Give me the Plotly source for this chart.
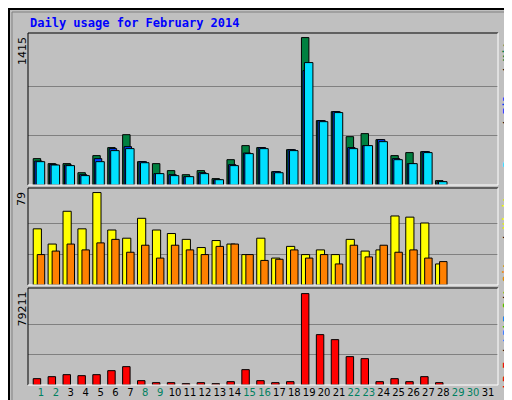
import plotly.graph_objects as go

days = list(range(1, 29))
all_days = list(range(1, 32))
weekend = [1, 2, 8, 9, 15, 16, 22, 23, 29, 30]
S1 = 1415 / 442
hits = [round(v * S1) for v in [79,64,64,37,88,112,151,70,64,43,31,43,19,76,118,112,40,106,442,193,220,145,154,136,88,97,100,13]]
files = [round(v * S1) for v in [72,62,60,31,79,109,115,70,34,31,25,37,16,61,96,112,40,106,343,193,220,112,118,136,79,64,100,10]]
pages = [round(v * S1) for v in [70,60,58,28,70,103,109,67,34,28,25,34,16,58,94,109,37,103,367,190,217,109,118,130,76,64,97,10]]
S2 = 79 / 277
visits = [round(v * S2) for v in [169,124,220,169,277,166,142,199,166,154,136,112,133,121,91,139,82,115,91,106,91,136,103,106,208,205,187,64]]
sites = [round(v * S2) for v in [91,100,124,106,127,136,97,118,79,118,106,91,115,124,91,73,76,106,82,91,64,118,85,118,97,106,79,70]]
S3 = 79211 / 274
kbf = [round(v * S3) for v in [19,25,31,28,31,43,55,13,7,7,4,7,4,10,46,13,7,10,274,151,136,85,79,10,19,10,25,7]]

fig = go.Figure()
ln = dict(color="black", width=1)
fig.add_bar(x=days, y=hits, offset=-0.52, width=0.5, marker=dict(color="#008040", line=ln), xaxis="x", yaxis="y")
fig.add_bar(x=days, y=files, offset=-0.42, width=0.5, marker=dict(color="#0040ff", line=ln), xaxis="x", yaxis="y")
fig.add_bar(x=days, y=pages, offset=-0.32, width=0.57, marker=dict(color="#00e0ff", line=ln), xaxis="x", yaxis="y")
fig.add_bar(x=days, y=visits, offset=-0.52, width=0.55, marker=dict(color="#ffff00", line=ln), xaxis="x2", yaxis="y2")
fig.add_bar(x=days, y=sites, offset=-0.25, width=0.5, marker=dict(color="#ff8000", line=ln), xaxis="x2", yaxis="y2")
fig.add_bar(x=days, y=kbf, offset=-0.52, width=0.5, marker=dict(color="#ff0000", line=ln), xaxis="x3", yaxis="y3")

xd = [20/512, 490/512]
xr = [0.13, 31.67]
ticktext = [f"<span style='color:#008060'>{d}</span>" if d in weekend else str(d) for d in all_days]
common_x = dict(domain=xd, range=xr, showgrid=False, zeroline=False, fixedrange=True, automargin=False)
fig.update_layout(
    width=512, height=400, margin=dict(l=0, r=0, t=0, b=0, autoexpand=False),
    paper_bgcolor="#c0c0c0", plot_bgcolor="#c0c0c0", showlegend=False, barmode="overlay",
    font=dict(family="DejaVu Sans Mono", size=11, color="black"),
    xaxis=dict(**common_x, anchor="y", showticklabels=False),
    xaxis2=dict(**common_x, anchor="y2", showticklabels=False),
    xaxis3=dict(**common_x, anchor="y3", tickvals=all_days, ticktext=ticktext, ticks="", tickangle=0,
                tickfont=dict(family="DejaVu Sans", size=10)),
)
panels = [("y", [1-177/400, 1-25/400], 1415, 1459), ("y2", [1-277/400, 1-180/400], 79, 82.9), ("y3", [1-377/400, 1-280/400], 79211, 84060)]
for name, dom, mx, top in panels:
    key = "yaxis" if name == "y" else "yaxis" + name[1:]
    fig.layout[key] = dict(domain=dom, range=[0, top], tickvals=[mx/3, 2*mx/3], showticklabels=False, automargin=False,
                           gridcolor="#808080", gridwidth=1, zeroline=False, anchor="x" + name[1:], fixedrange=True)
    fig.add_annotation(xref="paper", yref="paper",
                       x=14/512, y=dom[1] - 2/400, text=str(mx), textangle=-90, showarrow=False,
                       xanchor="center", yanchor="top", font=dict(family="DejaVu Sans", size=11))

shapes = [dict(type="rect", xref="paper", yref="paper", x0=1/512, x1=511/512, y0=1/400, y1=399/400, line=dict(color="black", width=2)),
          dict(type="rect", xref="paper", yref="paper", x0=4/512, x1=506/512, y0=6/400, y1=396/400, line=dict(color="#808080", width=1))]
for _, dom, _, _ in panels:
    y0, y1 = dom
    shapes.append(dict(type="line", xref="paper", yref="paper", x0=xd[0], x1=xd[1], y0=y1, y1=y1, line=dict(color="black", width=1)))
    shapes.append(dict(type="line", xref="paper", yref="paper", x0=xd[0], x1=xd[0], y0=y0, y1=y1, line=dict(color="black", width=1)))
    shapes.append(dict(type="line", xref="paper", yref="paper", x0=xd[0], x1=xd[1], y0=y0, y1=y0, line=dict(color="white", width=1)))
    shapes.append(dict(type="line", xref="paper", yref="paper", x0=xd[1], x1=xd[1], y0=y0, y1=y1, line=dict(color="white", width=1)))
fig.update_layout(shapes=shapes)

fig.add_annotation(xref="paper", yref="paper", x=20/512, y=1-15/400, text="<b>Daily usage for February 2014</b>",
                   showarrow=False, xanchor="left", yanchor="middle", font=dict(family="DejaVu Sans Mono", size=12, color="#0000ff"))
legends = [
    ("<span style='color:#00e0ff'>Pages</span> / <span style='color:#0040ff'>Files</span> / <span style='color:#008040'>Hits</span>", panels[0][1]),
    ("<span style='color:#00c000'>kB Out</span> <span style='color:#ff8000'>Sites</span> / <span style='color:#ffff00'>Visits</span>", panels[1][1]),
    ("<span style='color:#ff0000'>kB F</span> / <span style='color:#0080ff'>kB In</span> / ", panels[2][1]),
]
for txt, dom in legends:
    fig.add_annotation(xref="paper", yref="paper", x=499/512, y=dom[1], text="<b>" + txt + "</b>", textangle=-90,
                       showarrow=False, xanchor="center", yanchor="top", font=dict(family="DejaVu Sans Mono", size=11, color="black"))

fig.write_html("out.html")
